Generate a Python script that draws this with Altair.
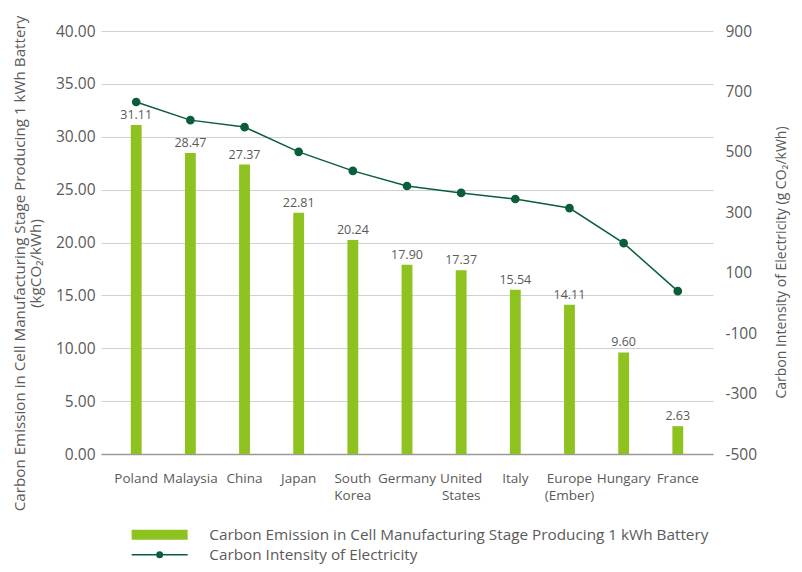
import altair as alt
import pandas as pd

countries = ["Poland", "Malaysia", "China", "Japan", "South\nKorea", "Germany",
             "United\nStates", "Italy", "Europe\n(Ember)", "Hungary", "France"]
emission = [31.11, 28.47, 27.37, 22.81, 20.24, 17.90, 17.37, 15.54, 14.11, 9.60, 2.63]
intensity = [665, 605, 582, 500, 437, 387, 364, 344, 314, 198, 39]

left_ticks = [0, 5, 10, 15, 20, 25, 30, 35, 40]
right_ticks = [-500, -300, -100, 100, 300, 500, 700, 900]

BAR_NAME = "Carbon Emission in Cell Manufacturing Stage Producing 1 kWh Battery"
LINE_NAME = "Carbon Intensity of Electricity"
GREEN = "#8dc21f"
DARK = "#0b5e3a"
TXT = "#5a5a5a"
FONT = "Open Sans"

RECT_PATH = "M-5.6,-1H5.6V1H-5.6Z"
LINE_PATH = ("M-5.6,0H5.6 "
             "M0.55,0A0.55,0.55,0,1,1,-0.55,0A0.55,0.55,0,1,1,0.55,0 "
             "M0.25,0A0.25,0.25,0,1,1,-0.25,0A0.25,0.25,0,1,1,0.25,0 "
             "M0.06,0A0.06,0.06,0,1,1,-0.06,0A0.06,0.06,0,1,1,0.06,0")

df = pd.DataFrame({"country": countries, "emission": emission, "intensity": intensity})

x = alt.X("country:N", sort=countries,
          scale=alt.Scale(paddingInner=0.8, paddingOuter=0.55),
          axis=alt.Axis(title=None, labelAngle=0, labelExpr="split(datum.label, '\\n')",
                        ticks=False, domain=True, domainColor="#9a9a9a", domainWidth=1.5,
                        labelPadding=17, labelFontSize=13.5, labelColor=TXT,
                        labelFont=FONT, labelLineHeight=17, labelBaseline="top"))

y_left = alt.Y("emission:Q", scale=alt.Scale(domain=[0, 40], nice=False),
               axis=alt.Axis(values=left_ticks, format=".2f", ticks=False, domain=False,
                             grid=True, gridColor="#d0d0d0", labelPadding=6,
                             labelFontSize=15.5, labelColor=TXT, labelFont=FONT,
                             title=[BAR_NAME, "(kgCO₂/kWh)"], titleFontSize=15.2,
                             titleFontWeight="normal", titleColor=TXT, titleFont=FONT,
                             titlePadding=12, titleLineHeight=16, titleY=232))

y_right = alt.Y("intensity:Q", scale=alt.Scale(domain=[-500, 900], nice=False),
                axis=alt.Axis(orient="right", values=right_ticks, labelExpr="'' + datum.value",
                              ticks=False, domain=False, grid=False, labelPadding=12,
                              labelFontSize=15.5, labelColor=TXT, labelFont=FONT,
                              title="Carbon Intensity of Electricity (g CO₂/kWh)",
                              titleFontSize=14, titleFontWeight="normal", titleColor=TXT,
                              titleFont=FONT, titleAngle=270, titleBaseline="top",
                              titlePadding=18, titleY=231))

legend_common = dict(title=None, orient="none", direction="vertical", symbolSize=100,
                     labelOffset=42, labelFontSize=15.3, labelColor=TXT, labelFont=FONT,
                     labelLimit=700)

base = alt.Chart(df)

bars = base.mark_bar().transform_calculate(series="'" + BAR_NAME + "'").encode(
    x=x,
    y=y_left,
    fill=alt.Fill("series:N", scale=alt.Scale(domain=[BAR_NAME], range=[GREEN]),
                  legend=alt.Legend(legendX=51, legendY=496, symbolType=RECT_PATH,
                                    symbolStrokeWidth=0, **legend_common)),
)

labels = base.mark_text(baseline="bottom", dy=-3, fontSize=12.5, color=TXT, font=FONT).encode(
    x=x,
    y=y_left,
    text=alt.Text("emission:Q", format=".2f"),
)

line = base.mark_line(strokeWidth=1.5,
                      point=alt.OverlayMarkDef(size=45, filled=True, color=DARK, opacity=1)
                      ).transform_calculate(series="'" + LINE_NAME + "'").encode(
    x=x,
    y=y_right,
    stroke=alt.Stroke("series:N", scale=alt.Scale(domain=[LINE_NAME], range=[DARK]),
                      legend=alt.Legend(legendX=51, legendY=516, symbolType=LINE_PATH,
                                        symbolStrokeWidth=1.5, symbolFillColor="transparent",
                                        **legend_common)),
)

left = alt.layer(bars, labels)
chart = alt.layer(left, line).resolve_scale(y="independent").properties(
    width=612, height=423,
    autosize=alt.AutoSizeParams(type="none"),
    padding={"left": 93, "top": 23, "right": 81, "bottom": 110},
).configure(font=FONT).configure_view(stroke="transparent", strokeWidth=0)

chart.save("out.html", embed_options={"renderer": "svg", "actions": False})
